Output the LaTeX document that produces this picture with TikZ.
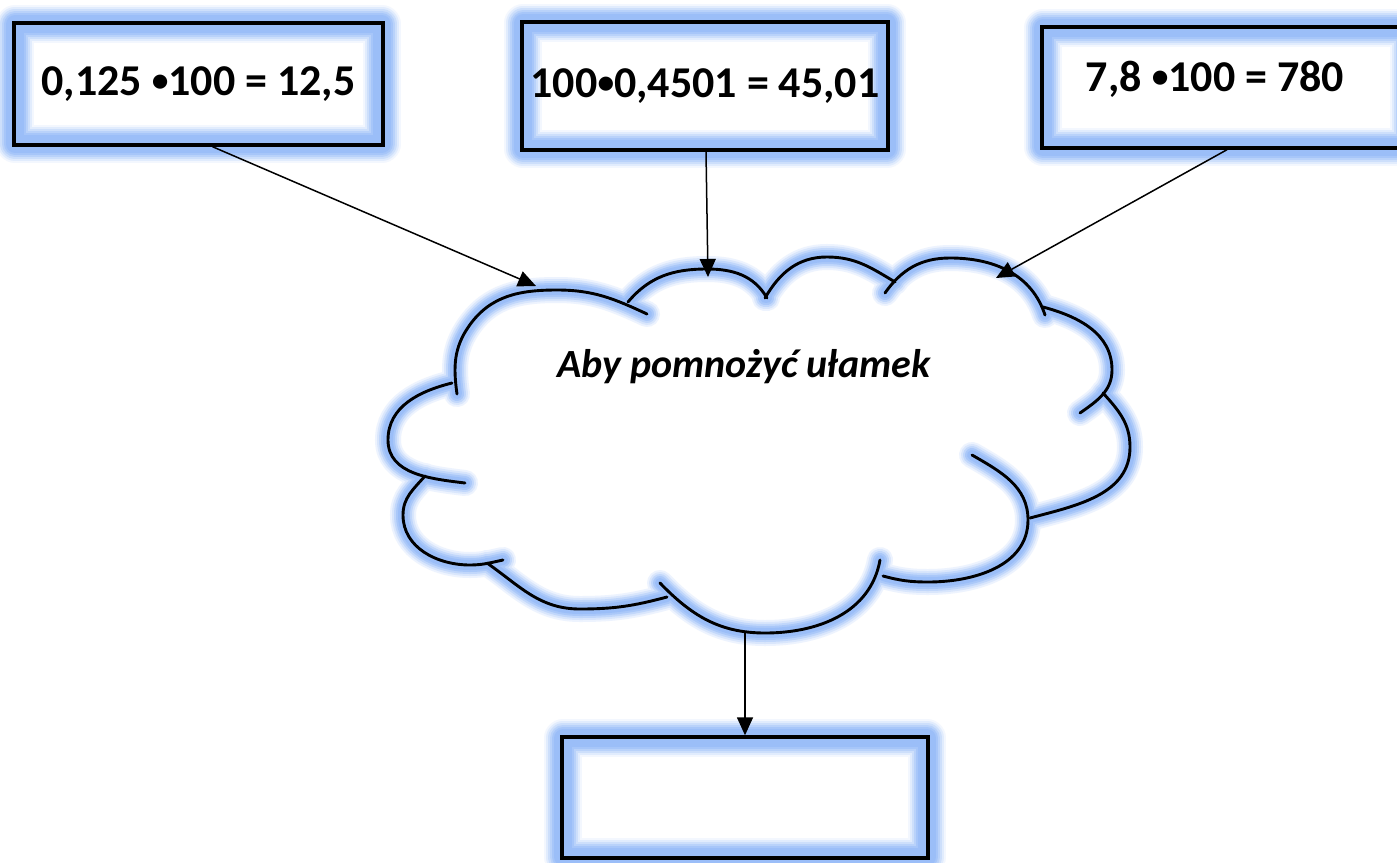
\documentclass[tikz,border=0pt]{standalone}
\usepackage{fontspec}
\usepackage{graphicx}
\setmainfont{Carlito}
\usetikzlibrary{arrows.meta,backgrounds}
\definecolor{glowc}{RGB}{155,190,248}
\newcommand\mybul{\raisebox{1.9pt}{\scalebox{0.76}{•}}}
\newcommand\cloudarcs[1]{%
\draw[#1] (457,394) to[out=98,in=-125] (469,326) to[out=55,in=180] (557,290) to[out=0,in=155] (647,314);
\draw[#1] (628,302) to[out=50,in=180] (707,269) to[out=0,in=120] (767,298);
\draw[#1] (765,298) to[out=60,in=180] (827,257) to[out=0,in=149] (895,282);
\draw[#1] (885,293) to[out=55,in=180] (950,258) to[out=0,in=108] (1045,315);
\draw[#1] (1043,307) to[out=-15,in=90] (1112,370) to[out=-90,in=35] (1080,413);
\draw[#1] (1103,393) to[out=-48,in=90] (1130,447) to[out=-90,in=15] (1030,518);
\draw[#1] (972,455) to[out=-30,in=90] (1028,520) to[out=-90,in=0] (928,582) to[out=180,in=-15] (883,576);
\draw[#1] (880,560) to[out=-100,in=0] (765,633) to[out=180,in=-46] (660,583);
\draw[#1] (667,597) to[out=195,in=0] (580,609) to[out=180,in=-35] (487,563);
\draw[#1] (425,476) to[out=-131,in=90] (403,515) to[out=-90,in=180] (470,565) to[out=0,in=192] (503,560);
\draw[#1] (465,483) to[out=173,in=-90] (388,440) to[out=90,in=194] (452,383);
}
\begin{document}
\begin{tikzpicture}[x=0.5pt,y=-0.5pt,
  box/.style={draw=black,line width=1.7pt,inner sep=0pt,font=\bfseries\fontsize{22}{26}\selectfont},
  boxtext/.style={inner sep=0pt,font=\bfseries\fontsize{22}{26}\selectfont},
  conn/.style={line width=0.75pt,-{Triangle[length=9pt,width=8pt]}},
  cloudline/.style={black,line width=1.45pt,line cap=round},
  cloudtext/.style={font=\bfseries\itshape\fontsize{20}{24}\selectfont}
]
\clip (0,0) rectangle (1397,862);

% boxes
\node[box,minimum width=184.5pt,minimum height=61pt] (b1) at (198.5,84) {0,125 \mybul100 = 12,5};
\node[box,minimum width=183pt,minimum height=64pt] (b2) at (705,86) {100\mybul0,4501 = 45,01};
\node[box,minimum width=184pt,minimum height=60.5pt] (b3) at (1226,87.5) {};
\node[boxtext] (t3) at (1215,79) {7,8 \mybul100 = 780};
\node[box,minimum width=183pt,minimum height=60.5pt] (b4) at (745,797.5) {};

% cloud glow and outline
\foreach \w/\c in {26/18,22/38,18/62,14/85,10/100}{\cloudarcs{glowc!\c,line width=\w*0.5pt,line cap=round}}
\cloudarcs{cloudline}
\node[cloudtext] (ct) at (744,367) {Aby pomnożyć ułamek};

\coordinate (cA) at (536,286);
\coordinate (cB) at (708,277);
\coordinate (cD) at (996,278);
\coordinate (cH) at (745,633);

% connectors
\draw[conn] ([xshift=7pt]b1.south) -- (cA);
\draw[conn] ([xshift=0.5pt]b2.south) -- (cB);
\draw[conn] ([xshift=0.5pt]b3.south) -- (cD);
\draw[conn] (cH) -- (b4.north);

% box glows
\begin{pgfonlayer}{background}
\fill[white] (0,0) rectangle (1397,862);
\foreach \n in {b1,b2,b3,b4}{
  \foreach \w/\c in {38/12,34/30,30/50,26/70,22/88,18/100}{
    \draw[glowc!\c,line width=\w*0.5pt,line join=round]
      ([shift={(1.5pt,1.5pt)}]\n.south west) rectangle ([shift={(-1.5pt,-1.5pt)}]\n.north east);
  }
}
\end{pgfonlayer}
\end{tikzpicture}
\end{document}
